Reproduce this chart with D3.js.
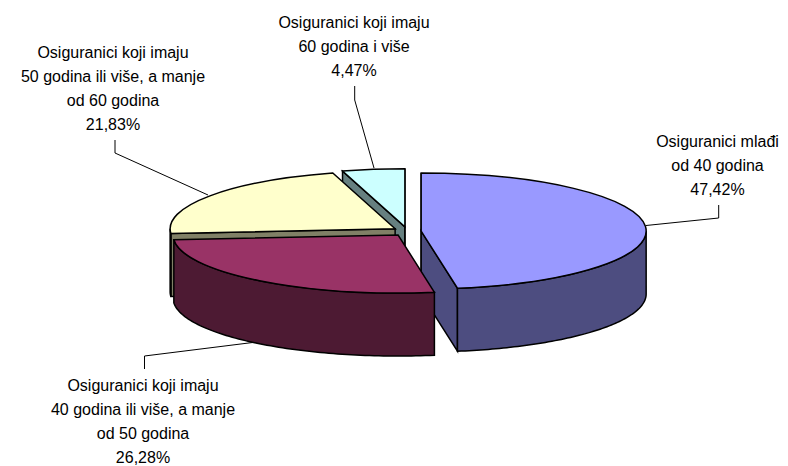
<!DOCTYPE html>
<html>
<head>
<meta charset="utf-8">
<script src="https://cdn.jsdelivr.net/npm/d3@7/dist/d3.min.js"></script>
<style>
html,body{margin:0;padding:0;background:#fff}
svg{display:block}
text{font-family:"Liberation Sans",Arial,sans-serif;font-size:16px;fill:#000}
</style>
</head>
<body>
<svg id="chart" width="788" height="466"></svg>
<script>
// Data, in slice order clockwise from 12 o'clock
const categories = [
  ["Osiguranici mlađi", "od 40 godina"],
  ["Osiguranici koji imaju", "40 godina ili više, a manje", "od 50 godina"],
  ["Osiguranici koji imaju", "50 godina ili više, a manje", "od 60 godina"],
  ["Osiguranici koji imaju", "60 godina i više"]
];
const shares = [47.42, 26.28, 21.83, 4.47];
const shareLabels = ["47,42%", "26,28%", "21,83%", "4,47%"];
const topColors = ["#9999ff", "#993366", "#ffffcc", "#ccffff"];
const sideColors = ["#4d4d80", "#4d1a33", "#808066", "#668080"];

// Layout
const svg = d3.select("#chart");
const W = 788, H = 466;
const cx = 406.9, cy = 231.4;   // pie centre before explosion
const rx = 225, ry = 58;        // ellipse radii of the tilted disc
const depth = 63;               // height of the disc
const explodeX = 14.3, explodeY = 4.6;
const strokeW = 1.5;

// Label layout: centre x, first baseline, leader polyline, per slice
const labelLayout = [
  {x: 717.5, y: 147, leader: [[646, 225.5], [718.7, 218], [718.7, 205]]},
  {x: 143,   y: 391, leader: [[256.7, 342], [144.5, 356], [144.5, 369]]},
  {x: 113,   y: 58,  leader: [[208, 195], [115, 153], [115, 140]]},
  {x: 354,   y: 28,  leader: [[374, 168], [354.7, 100], [354.7, 86]]}
];
const lineStep = 24;

const pie = d3.pie().sort(null).value(d => d);
const arcs = pie(shares).map((a, i) => {
  const mid = (a.startAngle + a.endAngle) / 2;
  return {
    ...a, i,
    ox: cx + explodeX * Math.sin(mid),
    oy: cy - explodeY * Math.cos(mid)
  };
});

const px = (s, t) => s.ox + rx * Math.sin(t);
const py = (s, t) => s.oy - ry * Math.cos(t);
const line = d3.line();
const style = (sel, fill) => sel
  .attr("fill", fill).attr("stroke", "#000")
  .attr("stroke-width", strokeW).attr("stroke-linejoin", "miter");

// Leaders lie under the pie
const leaderG = svg.append("g");
labelLayout.forEach(l => {
  leaderG.append("path").attr("d", line(l.leader))
    .attr("fill", "none").attr("stroke", "#000").attr("stroke-width", 1);
});

// Back to front: cyan, yellow, blue, maroon
const order = [3, 2, 0, 1];
const topArc = d3.arc().innerRadius(0).outerRadius(rx);
order.forEach(k => {
  const s = arcs[k];
  const g = svg.append("g");
  const eps = 1e-6;
  // Cut faces along the two radii
  const radial = t => [[s.ox, s.oy], [px(s, t), py(s, t)], [px(s, t), py(s, t) + depth], [s.ox, s.oy + depth]];
  if (Math.sin(s.startAngle) <= eps) {
    style(g.append("path").attr("d", line(radial(s.startAngle)) + "Z"), sideColors[k]);
  }
  if (Math.sin(s.endAngle) >= -eps) {
    style(g.append("path").attr("d", line(radial(s.endAngle)) + "Z"), sideColors[k]);
  }
  // Outer wall: the front half of the rim only
  const a0 = Math.max(s.startAngle, Math.PI / 2);
  const a1 = Math.min(s.endAngle, 3 * Math.PI / 2);
  if (a1 > a0) {
    const ts = d3.range(0, 81).map(j => a0 + (a1 - a0) * j / 80);
    const upper = ts.map(t => [px(s, t), py(s, t)]);
    const lower = ts.slice().reverse().map(t => [px(s, t), py(s, t) + depth]);
    style(g.append("path").attr("d", line(upper.concat(lower)) + "Z"), sideColors[k]);
  }
  // Top face
  style(g.append("path")
    .attr("d", topArc({startAngle: s.startAngle, endAngle: s.endAngle}))
    .attr("transform", `translate(${s.ox},${s.oy}) scale(1,${ry / rx})`)
    .attr("vector-effect", "non-scaling-stroke"), topColors[k]);
});

// Labels
labelLayout.forEach((l, i) => {
  const rows = categories[i].concat([shareLabels[i]]);
  const t = svg.append("text").attr("text-anchor", "middle");
  rows.forEach((r, j) => {
    t.append("tspan").attr("x", l.x).attr("y", l.y + j * lineStep).text(r);
  });
});
</script>
</body>
</html>
